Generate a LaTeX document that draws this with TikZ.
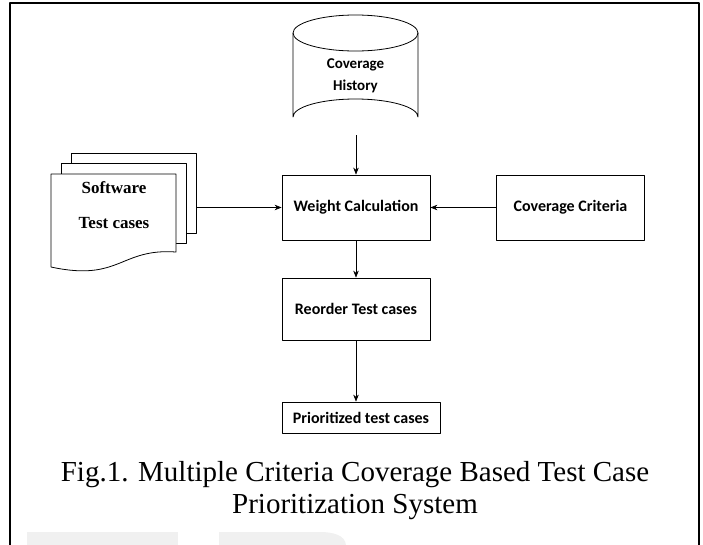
\documentclass[tikz,border=0pt]{standalone}
\usepackage{fontspec}
\setmainfont{Liberation Serif}
\newfontfamily\lblfont{Carlito}
\usetikzlibrary{arrows.meta}
\begin{document}
\begin{tikzpicture}[x=1pt,y=-1pt,>={Stealth[length=7pt,width=5.5pt]}, line join=round,
	blk/.style={draw, thick, minimum width=148pt, font=\lblfont\bfseries\fontsize{16}{18}\selectfont},
	page/.style={draw, thick, fill=white},
	conn/.style={->, semithick}]
	\useasboundingbox (0,0) rectangle (703,544);
	% frame
	\draw[line width=1.6pt] (10,546)--(10,3)--(699,3)--(699,546);
	\fill[gray!12] (27,532) rectangle (178,546);
	\fill[gray!12] (219,532)--(320,532) to[out=0,in=90] (346,546)--(219,546)--cycle;
	% coverage history (cylinder)
	\def\cylL{293} \def\cylR{418} \def\cylT{33} \def\cylB{117} \def\cylRy{18}
	\draw[thick,fill=white] (\cylL,\cylT)--(\cylL,\cylB) arc[start angle=180,end angle=360,x radius=62.5,y radius=\cylRy]--(\cylR,\cylT);
	\draw[thick] (355.5,\cylT) ellipse[x radius=62.5,y radius=\cylRy];
	\node[font=\lblfont\bfseries\fontsize{15}{22}\selectfont, align=center] (hist) at (355.5,76) {Coverage\\History};
	% blocks
	\node[blk, minimum height=65pt] (wc) at (356,207.5) {Weight Calculation};
	\node[blk, minimum height=65pt] (crit) at (570.5,207.5) {Coverage Criteria};
	\node[blk, minimum height=62pt] (reord) at (356,309) {Reorder Test cases};
	\node[blk, minimum width=158pt, minimum height=31pt] (prio) at (361,417.5) {Prioritized test cases};
	\coordinate (histbot) at (356,135);
	% software test cases (stack of documents)
	\node[page, minimum width=125pt, minimum height=80pt] (pg3) at (133.5,193.5) {};
	\node[page, minimum width=125pt, minimum height=80pt] (pg2) at (123.5,203.5) {};
	\draw[page] (51,174)--(176,174)--(176,252) .. controls (120,248) and (120,282) .. (51,267)--cycle;
	\node[font=\bfseries\fontsize{17}{35}\selectfont, align=center] (soft) at (114,205) {Software\\Test cases};
	% connectors
	\draw[conn] (histbot)--(wc.north);
	\draw[conn] (pg3.east |- wc.west)--(wc.west);
	\draw[conn] (crit.west)--(wc.east);
	\draw[conn] (wc.south)--(reord.north);
	\draw[conn] (reord.south)--(reord.south |- prio.north);
	% caption
	\node[font=\fontsize{29}{32}\selectfont, align=center] (cap) at (355,491)
		{Fig.1. Multiple Criteria Coverage Based Test Case\\Prioritization System};
\end{tikzpicture}
\end{document}
